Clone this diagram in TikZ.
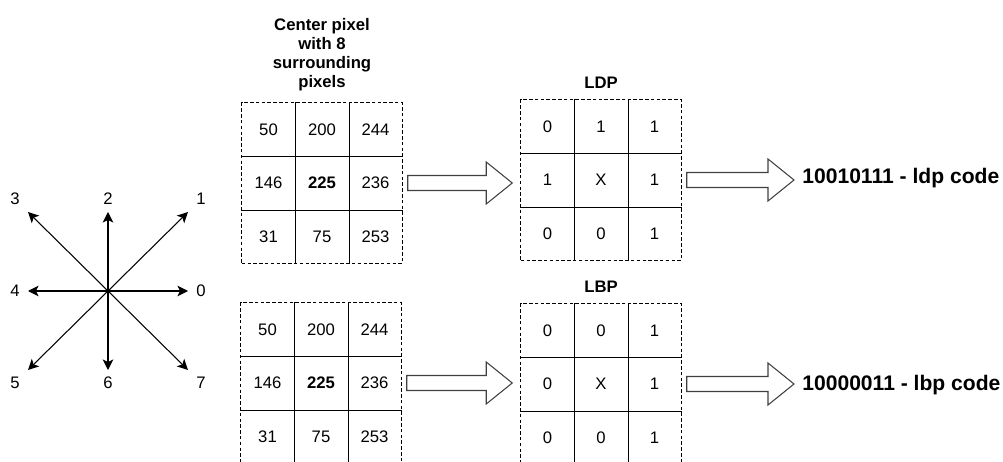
\documentclass[tikz,border=0pt]{standalone}
\usepackage{fontspec}
\setmainfont{Liberation Sans}
\usetikzlibrary{matrix, positioning, calc, arrows.meta}

\tikzset{
	pixgrid/.style  ={matrix of nodes, draw, dash pattern=on 2pt off 1.3pt, line width=0.6pt, inner sep=0pt,
	                  nodes={minimum width=1.07cm, minimum height=1.07cm, inner sep=0pt, anchor=center, font=\fontsize{9.5}{11}\selectfont}},
	gridline/.style ={line width=0.6pt},
	gridtitle/.style={font=\fontsize{9.5}{10.8}\selectfont\bfseries, align=center, inner sep=1pt},
	codetext/.style ={font=\fontsize{12}{14}\selectfont\bfseries, anchor=west, inner sep=0pt},
	fatarrow/.style ={draw=black!75, fill=white, line width=0.6pt},
	dirarrow/.style ={-{Stealth[length=6pt, width=6pt, inset=1.5pt]}, line width=0.6pt},
	dirlabel/.style ={font=\fontsize{9.5}{11}\selectfont, inner sep=0pt},
}

% hollow block arrow between two nodes
\newcommand{\blockarrow}[2]{%
	\draw[fatarrow] ($(#1.east)+(5,-7.5)$) -- ($(#1.east -| #2.west)+(-34,-7.5)$)
		-- ($(#1.east -| #2.west)+(-34,-21)$) -- ($(#1.east -| #2.west)+(-8,0)$)
		-- ($(#1.east -| #2.west)+(-34,21)$) -- ($(#1.east -| #2.west)+(-34,7.5)$)
		-- ($(#1.east)+(5,7.5)$) -- cycle;}

\begin{document}
\begin{tikzpicture}[x=0.02cm, y=-0.02cm]
	\useasboundingbox (0,0) rectangle (1003,462);

	% eight neighbour directions
	\coordinate (hub) at (108,291);
	\foreach \i/\dx/\dy in {0/1/0, 1/1/-1, 2/0/-1, 3/-1/-1, 4/-1/0, 5/-1/1, 6/0/1, 7/1/1} {
		\coordinate (e\i) at ($(hub)+(80*\dx,79*\dy)$);
		\node[dirlabel] (d\i) at ($(hub)+(93*\dx,92*\dy)$) {\i};
		\draw[dirarrow] (hub) -- (e\i);
	}

	% neighbourhoods
	\matrix[pixgrid] (src) at (322,183) {
		50 & 200 & 244 \\
		146 & |[font=\fontsize{9.5}{11}\selectfont\bfseries]| 225 & 236 \\
		31 & 75 & 253 \\
	};
	\matrix[pixgrid] (srcb) at (321,383) {
		50 & 200 & 244 \\
		146 & |[font=\fontsize{9.5}{11}\selectfont\bfseries]| 225 & 236 \\
		31 & 75 & 253 \\
	};
	\matrix[pixgrid] (ldp) at (601,180) {
		0 & 1 & 1 \\
		1 & X & 1 \\
		0 & 0 & 1 \\
	};
	\matrix[pixgrid] (lbp) at (601,384) {
		0 & 0 & 1 \\
		0 & X & 1 \\
		0 & 0 & 1 \\
	};
	\foreach \g in {src, srcb, ldp, lbp} {
		\foreach \k in {1,2} {
			\draw[gridline] (\g-1-\k.north east) -- (\g-3-\k.south east);
			\draw[gridline] (\g-\k-1.south west) -- (\g-\k-3.south east);
		}
	}

	\node[gridtitle, above=0.18cm of src] (srctitle) {Center pixel\\with 8\\surrounding\\pixels};
	\node[gridtitle, above=0.18cm of ldp] (ldptitle) {LDP};
	\node[gridtitle, above=0.18cm of lbp] (lbptitle) {LBP};

	\node[codetext] (ldpcode) at (802,178) {10010111 - ldp code};
	\node[codetext] (lbpcode) at (802,385) {10000011 - lbp code};

	\blockarrow{src}{ldp}
	\blockarrow{srcb}{lbp}
	\blockarrow{ldp}{ldpcode}
	\blockarrow{lbp}{lbpcode}
\end{tikzpicture}
\end{document}
